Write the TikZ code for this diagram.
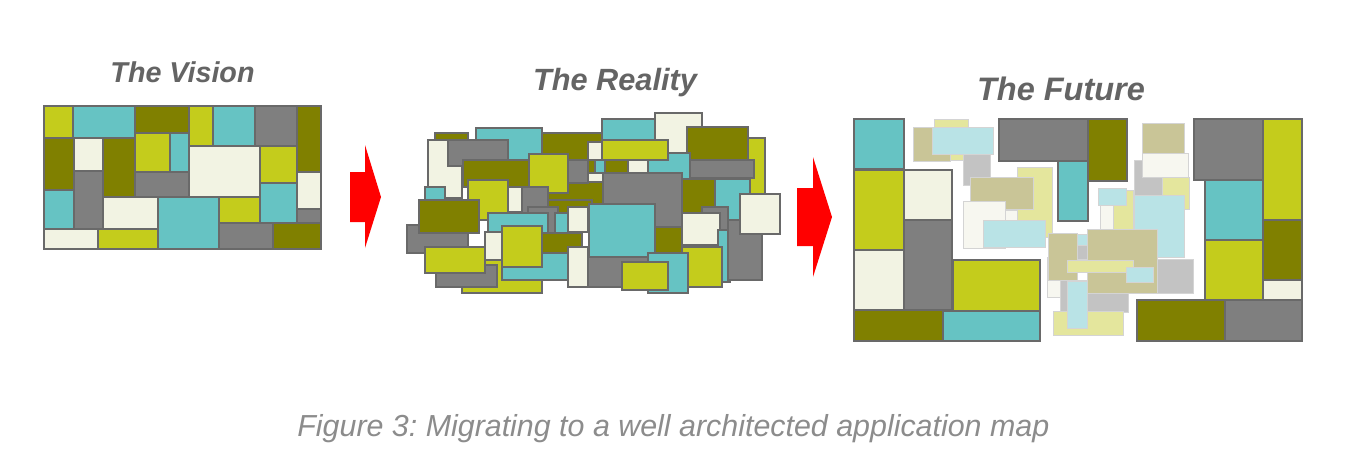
\documentclass[tikz,border=0pt]{standalone}
\usepackage{fontspec}
\usepackage{xcolor}
\setmainfont{Liberation Sans}
\frenchspacing
\usetikzlibrary{positioning}

\definecolor{tile_olive}{RGB}{128,128,0}
\definecolor{tile_lime}{RGB}{196,204,28}
\definecolor{tile_teal}{RGB}{102,195,195}
\definecolor{tile_gray}{RGB}{127,127,127}
\definecolor{tile_cream}{RGB}{242,243,227}
\definecolor{pale_tan}{RGB}{201,197,151}
\definecolor{pale_blue}{RGB}{185,227,230}
\definecolor{pale_gray}{RGB}{195,195,195}
\definecolor{pale_yellow}{RGB}{228,230,157}
\definecolor{pale_white}{RGB}{247,247,240}
\definecolor{tile_edge}{RGB}{105,105,105}
\definecolor{pale_edge}{RGB}{212,212,212}
\definecolor{title_gray}{RGB}{100,100,100}
\definecolor{caption_gray}{RGB}{140,140,140}

\tikzset{
    tile/.style={draw=tile_edge, line width=0.55pt},
    ghost/.style={draw=pale_edge, line width=0.5pt},
    move_arrow/.style={fill=red, draw=none},
    panel_title/.style={anchor=base, text=title_gray, font=\bfseries\itshape},
}

\begin{document}
\begin{tikzpicture}[x=0.5pt, y=-0.5pt]
    \fill[white] (0,0) rectangle (1367,467);
    \useasboundingbox (0,0) rectangle (1367,467);

    % the vision
    \foreach \xa/\ya/\xb/\yb/\c in {
        44/106/73/138/tile_lime, 73/106/135/138/tile_teal, 135/106/189/133/tile_olive,
        189/106/213/146/tile_lime, 213/106/255/146/tile_teal, 255/106/297/146/tile_gray,
        297/106/321/172/tile_olive, 44/138/74/190/tile_olive, 74/138/103/171/tile_cream,
        103/138/135/197/tile_olive, 135/133/170/172/tile_lime, 170/133/189/172/tile_teal,
        189/146/260/197/tile_cream, 260/146/297/183/tile_lime, 74/171/103/229/tile_gray,
        135/172/189/197/tile_gray, 44/190/74/229/tile_teal, 103/197/158/229/tile_cream,
        158/197/219/249/tile_teal, 219/197/260/223/tile_lime, 260/183/297/223/tile_teal,
        297/172/321/209/tile_cream, 297/209/321/223/tile_gray, 44/229/98/249/tile_cream,
        98/229/158/249/tile_lime, 219/223/273/249/tile_gray, 273/223/321/249/tile_olive}
        \filldraw[tile, fill=\c] (\xa,\ya) rectangle (\xb,\yb);

    % the reality
    \foreach \xa/\ya/\xb/\yb/\c in {
        435/133/468/145/tile_olive, 476/128/542/160/tile_teal, 542/133/603/207/tile_olive,
        545/200/592/218/tile_olive, 602/119/657/150/tile_teal, 655/113/702/153/tile_cream,
        733/138/765/195/tile_lime, 687/127/748/160/tile_olive, 687/160/754/178/tile_gray,
        428/140/462/198/tile_cream, 448/140/508/166/tile_gray, 463/160/537/187/tile_olive,
        588/142/602/160/tile_cream, 648/153/690/187/tile_teal, 602/140/668/160/tile_lime,
        595/160/615/173/tile_teal, 588/173/603/182/tile_cream, 605/160/630/192/tile_olive,
        628/160/648/186/tile_cream, 568/160/588/183/tile_gray, 603/173/682/227/tile_gray,
        682/179/715/213/tile_olive, 715/179/750/227/tile_teal, 529/154/568/193/tile_lime,
        425/187/445/200/tile_teal, 468/180/508/220/tile_lime, 508/187/522/212/tile_cream,
        522/187/548/217/tile_gray, 407/225/468/253/tile_gray, 419/200/479/233/tile_olive,
        702/207/728/233/tile_gray, 682/213/720/245/tile_cream, 718/230/730/282/tile_teal,
        728/220/762/280/tile_gray, 740/194/780/234/tile_cream, 528/207/558/247/tile_gray,
        555/213/570/236/tile_teal, 488/213/548/247/tile_teal, 542/233/582/257/tile_olive,
        589/204/655/257/tile_teal, 568/207/588/232/tile_cream, 655/227/682/253/tile_olive,
        682/247/722/287/tile_lime, 462/260/542/293/tile_lime, 436/265/497/287/tile_gray,
        425/247/485/273/tile_lime, 485/232/502/260/tile_cream, 502/253/568/280/tile_teal,
        502/226/542/267/tile_lime, 568/247/588/287/tile_cream, 588/257/648/287/tile_gray,
        648/253/688/293/tile_teal, 622/262/668/290/tile_lime}
        \filldraw[tile, fill=\c] (\xa,\ya) rectangle (\xb,\yb);

    % the future, loose pieces first
    \foreach \xa/\ya/\xb/\yb/\c in {
        934/119/968/160/pale_yellow, 913/127/950/161/pale_tan, 932/127/993/154/pale_blue,
        963/154/990/185/pale_gray, 1017/167/1052/237/pale_yellow, 970/177/1033/209/pale_tan,
        963/201/1005/248/pale_white, 1005/210/1017/220/pale_white, 983/220/1045/247/pale_blue,
        1142/123/1184/154/pale_tan, 1134/160/1162/209/pale_gray, 1142/153/1188/177/pale_white,
        1162/177/1189/209/pale_yellow, 1134/195/1184/257/pale_blue, 1113/190/1133/230/pale_yellow,
        1098/188/1126/205/pale_blue, 1100/205/1113/229/pale_white, 1157/259/1193/293/pale_gray,
        1047/257/1060/297/pale_white, 1048/233/1077/280/pale_tan, 1077/234/1087/245/pale_blue,
        1077/245/1087/259/pale_gray, 1060/280/1128/312/pale_gray, 1087/229/1157/293/pale_tan,
        1067/260/1133/272/pale_yellow, 1126/267/1153/282/pale_blue, 1053/311/1123/335/pale_yellow,
        1067/281/1087/328/pale_blue}
        \filldraw[ghost, fill=\c] (\xa,\ya) rectangle (\xb,\yb);

    \foreach \xa/\ya/\xb/\yb/\c in {
        854/119/904/169/tile_teal, 854/170/904/250/tile_lime, 854/250/904/310/tile_cream,
        904/170/952/220/tile_cream, 904/220/952/310/tile_gray, 854/310/943/341/tile_olive,
        943/311/1040/341/tile_teal, 953/260/1040/311/tile_lime, 999/119/1088/161/tile_gray,
        1088/119/1127/181/tile_olive, 1058/161/1088/221/tile_teal, 1194/119/1263/180/tile_gray,
        1263/119/1302/220/tile_lime, 1205/180/1263/240/tile_teal, 1263/220/1302/280/tile_olive,
        1205/240/1263/300/tile_lime, 1263/280/1302/300/tile_cream, 1225/300/1302/341/tile_gray,
        1137/300/1225/341/tile_olive}
        \filldraw[tile, fill=\c] (\xa,\ya) rectangle (\xb,\yb);

    % arrows
    \fill[move_arrow] (350,172) -- (365,172) -- (365,145) -- (381,197)
        -- (365,248) -- (365,222) -- (350,222) -- cycle;
    \fill[move_arrow] (797,188) -- (813,188) -- (813,157) -- (832,217)
        -- (813,277) -- (813,246) -- (797,246) -- cycle;

    % titles
    \node (vision_title) [panel_title, font=\fontsize{14.35}{17}\selectfont\bfseries\itshape] at (182.5,82.3) {The Vision};
    \node (reality_title) [panel_title, font=\fontsize{15.35}{18}\selectfont\bfseries\itshape] at (615,90.7) {The Reality};
    \node (future_title) [panel_title, font=\fontsize{16.25}{19}\selectfont\bfseries\itshape] at (1061,100.5) {The Future};

    \node (caption) [anchor=base west, inner sep=0pt, text=caption_gray,
        font=\fontsize{15.2}{18}\selectfont\itshape] at (297,436) {Figure 3: Migrating to a well architected application map};
\end{tikzpicture}
\end{document}
